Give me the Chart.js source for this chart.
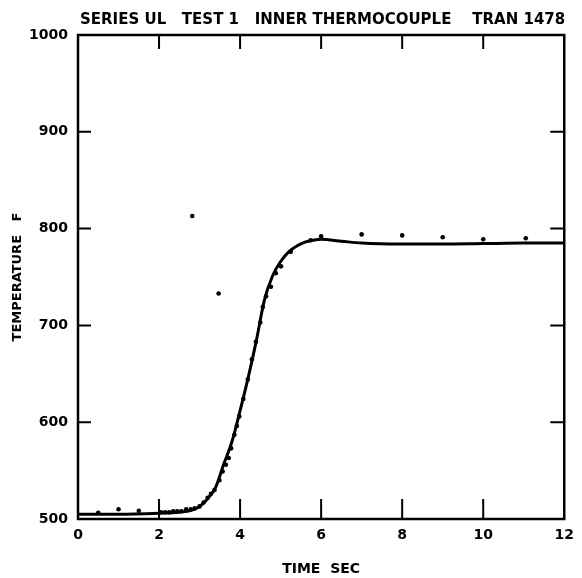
<!DOCTYPE html>
<html>
<head>
<meta charset="utf-8">
<script src="https://cdn.jsdelivr.net/npm/chart.js@4"></script>
<style>
  html, body { margin: 0; padding: 0; background: #fff; }
  #wrap { width: 582px; height: 578px; }
</style>
</head>
<body>
<div id="wrap"><canvas id="grafica"></canvas></div>
<script>
const TITULO = 'SERIES UL   TEST 1   INNER THERMOCOUPLE    TRAN 1478';

// curva calculada (linea continua)
const tiempoCurva = [0, 1, 2, 2.5, 2.8, 3.0, 3.2, 3.4, 3.6, 3.8, 4.0, 4.2, 4.4, 4.6, 4.8, 5.0, 5.2, 5.4, 5.6, 5.8, 6.0, 6.5, 7, 8, 9, 10, 11, 12];
const tempCurva   = [505, 505, 506, 507, 509, 513, 521, 533, 557, 580, 612, 646, 684, 726, 751, 766, 776, 782, 786, 788, 789, 787, 785, 784, 784, 784.5, 785, 785];

// datos medidos (puntos)
const tiempoPuntos = [0.5, 1.0, 1.5, 2.05, 2.15, 2.25, 2.35, 2.45, 2.55, 2.67, 2.78, 2.88, 2.82, 3.0, 3.1, 3.2, 3.28, 3.37, 3.47, 3.49, 3.57, 3.65, 3.72, 3.78, 3.86, 3.92, 3.98, 4.08, 4.19, 4.29, 4.39, 4.5, 4.56, 4.64, 4.76, 4.88, 5.01, 5.25, 5.74, 6.0, 7.0, 8.0, 9.0, 10.0, 11.05];
const tempPuntos   = [506.5, 510, 508.5, 507, 507, 507, 508, 508, 508, 510, 510, 511, 813, 513, 517, 522, 526, 530, 733, 540, 549, 556, 563, 573, 587, 596, 606, 624, 644, 665, 683, 703, 719, 730, 740, 754, 761, 776, 788, 792, 794, 793, 791, 789, 790];

const ticksX = [0, 2, 4, 6, 8, 10, 12];
const ticksY = [500, 600, 700, 800, 900, 1000];

const fuente = 'DejaVu Sans';

// marco y marcas hacia adentro
const marco = {
  id: 'marco',
  afterDraw(chart) {
    const { ctx, chartArea: a, scales } = chart;
    ctx.save();
    ctx.strokeStyle = '#000';
    ctx.lineWidth = 2.5;
    ctx.strokeRect(a.left, a.top, a.right - a.left, a.bottom - a.top);
    ctx.lineWidth = 2;
    ctx.beginPath();
    ticksX.slice(1, -1).forEach(v => {
      const x = scales.x.getPixelForValue(v);
      ctx.moveTo(x, a.bottom); ctx.lineTo(x, a.bottom - 20);
      ctx.moveTo(x, a.top);    ctx.lineTo(x, a.top + 14);
    });
    ticksY.slice(1, -1).forEach(v => {
      const y = scales.y.getPixelForValue(v);
      ctx.moveTo(a.left, y);  ctx.lineTo(a.left + 13, y);
      ctx.moveTo(a.right, y); ctx.lineTo(a.right - 14, y);
    });
    ctx.stroke();
    // titulo
    ctx.fillStyle = '#000';
    ctx.font = 'bold 15px "' + fuente + '"';
    ctx.textBaseline = 'alphabetic';
    ctx.textAlign = 'left';
    ctx.fillText(TITULO, a.left + 2, 24);
    ctx.restore();
  }
};

new Chart(document.getElementById('grafica'), {
  type: 'scatter',
  data: {
    datasets: [
      {
        label: 'Calculado',
        data: tiempoCurva.map((t, i) => ({ x: t, y: tempCurva[i] })),
        showLine: true,
        borderColor: '#000',
        borderWidth: 3,
        pointRadius: 0,
        cubicInterpolationMode: 'monotone',
        order: 2
      },
      {
        label: 'Medido',
        data: tiempoPuntos.map((t, i) => ({ x: t, y: tempPuntos[i] })),
        showLine: false,
        pointRadius: 2.3,
        pointBackgroundColor: '#000',
        pointBorderColor: '#000',
        pointBorderWidth: 0,
        order: 1
      }
    ]
  },
  options: {
    responsive: true,
    maintainAspectRatio: false,
    animation: false,
    layout: { padding: { top: 35, right: 16, left: 0, bottom: 0 } },
    plugins: {
      legend: { display: false },
      tooltip: { enabled: false }
    },
    scales: {
      x: {
        type: 'linear',
        min: 0, max: 12,
        afterFit: s => { s.height = 59; },
        afterBuildTicks: s => { s.ticks = ticksX.map(v => ({ value: v })); },
        grid: { display: false, drawTicks: false },
        border: { display: false },
        ticks: { color: '#000', padding: 8, font: { family: fuente, size: 14, weight: 'bold' }, callback: v => String(v) },
        title: {
          display: true,
          text: 'TIME  SEC',
          color: '#000',
          padding: { top: 0, bottom: 0 },
          font: { family: fuente, size: 14, weight: 'bold' }
        }
      },
      y: {
        type: 'linear',
        min: 500, max: 1000,
        afterFit: s => { s.width = 78; },
        afterBuildTicks: s => { s.ticks = ticksY.map(v => ({ value: v })); },
        grid: { display: false, drawTicks: false },
        border: { display: false },
        ticks: { color: '#000', padding: 10, font: { family: fuente, size: 14, weight: 'bold' }, callback: v => String(v) },
        title: {
          display: true,
          text: 'TEMPERATURE   F',
          color: '#000',
          padding: { top: 10, bottom: 0 },
          font: { family: fuente, size: 13, weight: 'bold' }
        }
      }
    }
  },
  plugins: [marco]
});
</script>
</body>
</html>
